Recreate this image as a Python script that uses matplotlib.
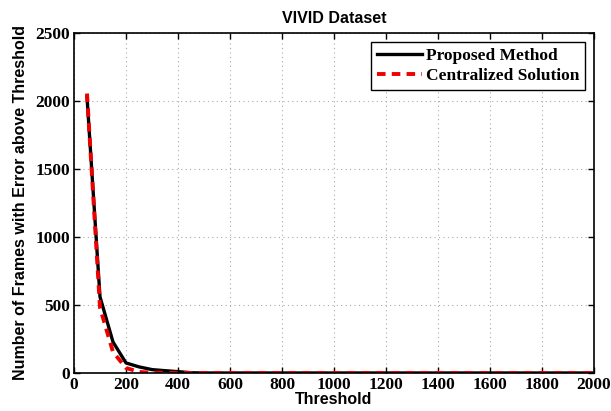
import matplotlib
matplotlib.use("Agg")
import matplotlib.pyplot as plt

# ----------------------------
# Data
# ----------------------------

thresholds = [50, 100, 150, 200, 250, 300, 350, 400, 450, 500, 1000, 1500, 2000]
proposed = [2030, 560, 228, 74, 45, 25, 17, 10, 2, 0, 0, 0, 0]
centralized = [2055, 480, 155, 37, 8, 2, 0, 0, 0, 0, 0, 0, 0]

x_ticks = list(range(0, 2001, 200))
y_ticks = list(range(0, 2501, 500))

# ----------------------------
# Figure
# ----------------------------

fig = plt.figure(figsize=(6.11, 4.11), dpi=100)
ax = fig.add_axes([74 / 611, 38 / 411, 520 / 611, 340 / 411])

ax.plot(thresholds, proposed, color="black", linewidth=2.4,
        label="Proposed Method")
ax.plot(thresholds, centralized, color="#ee0000", linewidth=2.8,
        linestyle=(0, (2.2, 1.6)), label="Centralized Solution")

ax.set_xlim(0, 2000)
ax.set_ylim(0, 2500)
ax.set_xticks(x_ticks)
ax.set_yticks(y_ticks)

tick_font = {"family": "Liberation Serif", "weight": "bold", "size": 12.5}
ax.set_xticklabels([str(t) for t in x_ticks], fontdict=tick_font)
ax.set_yticklabels([str(t) for t in y_ticks], fontdict=tick_font)
ax.tick_params(direction="in", length=4, width=1, pad=3, top=True, right=True)

ax.grid(True, linestyle=(0, (1, 3)), color="#aaaaaa", linewidth=0.8)

for spine in ax.spines.values():
    spine.set_linewidth(1.2)

label_font = {"family": "Liberation Sans", "weight": "bold", "size": 11.5}
ax.set_xlabel("Threshold", fontdict=label_font, labelpad=-1)
ax.set_ylabel("Number of Frames with Error above Threshold",
              fontdict=label_font, labelpad=5)
ax.set_title("VIVID Dataset", fontdict=label_font, pad=7)

leg = ax.legend(loc="upper right", fancybox=False, framealpha=1,
                edgecolor="black", handlelength=2.6, handletextpad=0.2,
                borderpad=0.35, labelspacing=0.25, borderaxespad=0.5,
                prop={"family": "Liberation Serif", "weight": "bold",
                      "size": 12.5})
leg.get_frame().set_linewidth(1.0)

fig.savefig("out.png", dpi=100)
